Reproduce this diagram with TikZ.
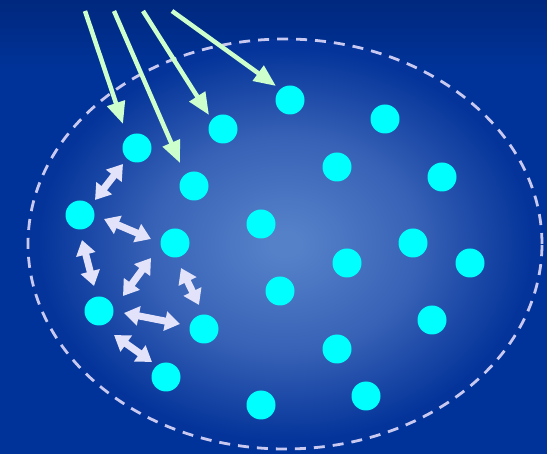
\documentclass[tikz,border=0pt]{standalone}
\usetikzlibrary{arrows.meta}
\definecolor{bgtop}{HTML}{00287E}
\definecolor{bgbot}{HTML}{003399}
\definecolor{ctr}{HTML}{5581C9}
\definecolor{mid}{HTML}{3862B6}
\definecolor{edg}{HTML}{04349A}
\definecolor{dot}{HTML}{00FFFF}
\definecolor{grn}{HTML}{CCFFCC}
\definecolor{lav}{HTML}{E2E2FA}
\definecolor{dsh}{HTML}{C8C8F0}
\pgfdeclareradialshading{ellshade}{\pgfpoint{0bp}{0bp}}{color(0bp)=(ctr); color(1.5bp)=(ctr); color(13bp)=(mid); color(24bp)=(edg); color(50bp)=(edg)}
\tikzset{
  dotnode/.style={circle, fill=dot, minimum size=29pt, inner sep=0pt},
  inarrow/.style={grn, line width=4.5pt, -{Triangle[length=22pt,width=18pt]}},
  dblarrow/.style={lav, line width=7pt, {Triangle[length=15pt,width=19pt]}-{Triangle[length=15pt,width=19pt]}},
  boundary/.style={dsh, line width=2.8pt, dash pattern=on 11pt off 8pt}
}
\begin{document}
\begin{tikzpicture}[x=1pt,y=-1pt]
\useasboundingbox (0,0) rectangle (547,454);
% background
\fill[bgbot] (0,0) rectangle (547,454);
\shade[top color=bgtop, bottom color=bgbot] (0,0) rectangle (547,70);
% ellipse region
\shade[shading=ellshade] (285,244) ellipse [x radius=257pt, y radius=205pt];
\draw[boundary] (285,244) ellipse [x radius=257pt, y radius=205pt];
% particles
\node[dotnode] (c1) at (137,148) {};
\node[dotnode] (c2) at (223,129) {};
\node[dotnode] (c3) at (290,100) {};
\node[dotnode] (c4) at (385,119) {};
\node[dotnode] (c5) at (194,186) {};
\node[dotnode] (c6) at (80,215) {};
\node[dotnode] (c7) at (337,167) {};
\node[dotnode] (c8) at (442,177) {};
\node[dotnode] (c9) at (175,243) {};
\node[dotnode] (c10) at (261,224) {};
\node[dotnode] (c11) at (413,243) {};
\node[dotnode] (c12) at (347,263) {};
\node[dotnode] (c13) at (470,263) {};
\node[dotnode] (c14) at (280,291) {};
\node[dotnode] (c15) at (99,311) {};
\node[dotnode] (c16) at (204,329) {};
\node[dotnode] (c17) at (432,320) {};
\node[dotnode] (c18) at (337,349) {};
\node[dotnode] (c19) at (166,377) {};
\node[dotnode] (c20) at (261,405) {};
\node[dotnode] (c21) at (366,396) {};
% incoming arrows
\coordinate (s1) at (85,11);  \coordinate (t1) at (123,124);
\coordinate (s2) at (114,11); \coordinate (t2) at (180,163);
\coordinate (s3) at (143,11); \coordinate (t3) at (209,115);
\coordinate (s4) at (172,11); \coordinate (t4) at (276,86);
\draw[inarrow] (s1) -- (t1);
\draw[inarrow] (s2) -- (t2);
\draw[inarrow] (s3) -- (t3);
\draw[inarrow] (s4) -- (t4);
% interaction arrows
\coordinate (a1) at (95,200);  \coordinate (b1) at (123,164);
\coordinate (a2) at (104,219); \coordinate (b2) at (151,239);
\coordinate (a3) at (82,240);  \coordinate (b3) at (94,286);
\coordinate (a4) at (123,296); \coordinate (b4) at (151,258);
\coordinate (a5) at (181,268); \coordinate (b5) at (199,305);
\coordinate (a6) at (124,313); \coordinate (b6) at (180,324);
\coordinate (a7) at (114,335); \coordinate (b7) at (152,362);
\draw[dblarrow] (a1) -- (b1);
\draw[dblarrow] (a2) -- (b2);
\draw[dblarrow] (a3) -- (b3);
\draw[dblarrow] (a4) -- (b4);
\draw[dblarrow] (a5) -- (b5);
\draw[dblarrow] (a6) -- (b6);
\draw[dblarrow] (a7) -- (b7);
\end{tikzpicture}
\end{document}
